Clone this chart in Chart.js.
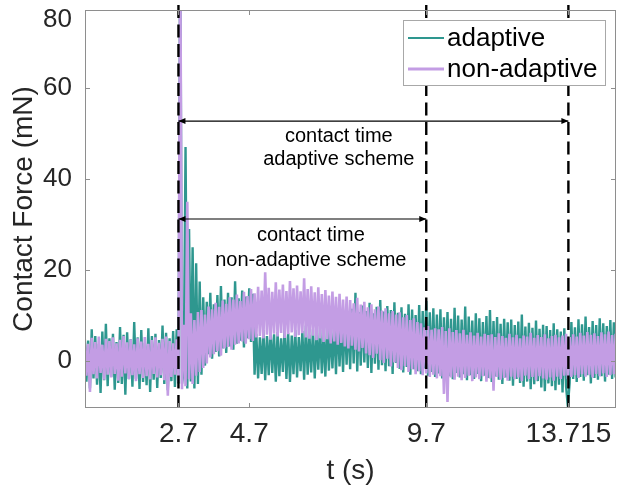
<!DOCTYPE html>
<html><head><meta charset="utf-8">
<script src="https://cdn.jsdelivr.net/npm/chart.js@4/dist/chart.umd.min.js"></script>
<style>html,body{margin:0;padding:0;background:#fff;}</style>
</head><body>
<canvas id="c" width="633" height="485"></canvas>
<script>
// ---- data ----
const sampleStart = 0.05, sampleStep = 0.05;   // sample times of the recorded signals (s)
const adaptive = [
 6,-4.5,4.5,-6,7,-3.8,5.5,-5.2,3.8,-7,
 6.5,-4.2,8.2,-5.5,5,-3.5,6,-6.3,4.2,-4.8,
 7.5,-5,5.8,-7.4,6.3,-4,4.8,-5.6,8.6,-3.9,
 5.2,-6.1,6.8,-4.6,4,-5.3,7.2,-6.8,5.5,-4.1,
 6,-5.9,4.6,-3.7,7.8,-5,6.2,-6.4,5,-4.4,
 6.6,-5.7,7,-4.9,95,-5,-2,47,-6,29,
 -4.5,25,-6,21.5,-5,17.5,-3,14,-1,13,
 1.5,15,0.5,12.5,2,14.5,1,16.5,2.8,13.5,
 1.8,15,3.2,14,2.5,17.5,3.8,13.8,4.5,15.5,
 3,14.2,5,16,4.2,14.8,-3,6,-3.8,5.2,
 -2.8,6.8,-4.2,5.5,-3.1,7.2,-2.6,5.9,-4.5,6.4,
 -3.3,5,-2.4,7.5,-3.9,6.1,-4.6,5.6,-2.9,6.9,
 -3.6,5.3,-2.2,6.6,-4.1,7.8,-3,5.8,-2.5,7,
 -3.8,6.2,-1.9,7.4,-2.7,5.9,-3.4,8,-2.1,7.1,
 -1.6,8.6,-2.9,9.5,-1.2,8.2,-2.4,10.3,-0.8,9.6,
 -1.8,11.5,-0.5,15,-2.3,10.8,-1,12.2,-0.3,11,
 -1.5,12.8,-2.6,10.5,-0.6,11.9,-1.9,13.4,-0.9,10.9,
 -2.2,12.1,-1.1,11.2,-2.8,12.9,-0.4,10.6,-1.7,11.8,
 -2.5,10.4,-1.3,12.5,-3,11.3,-1.8,10.1,-2.2,12.3,
 -2.9,11,-1.6,13.2,-3.2,10.7,-2.4,11.6,-3.5,10.2,
 -2.7,11.4,-3.8,9.6,-2.1,10.8,-3.3,9.3,-4,11.7,
 -2.6,10,-3.6,9.1,-2.9,12,-4.2,9.8,-3.1,8.9,
 -3.9,10.5,-2.8,9.4,-4.4,8.6,-3.2,9.9,-3.7,11.2,
 -4.6,8.8,-3.4,9.7,-4.1,8.2,-5,9.3,-3.6,8.5,
 -4.3,9.1,-5.4,7.9,-3.9,8.7,-4.8,10.2,-5.6,7.6,
 -4.5,8.4,-6.2,7.3,-5.1,8.9,-4.4,7.1,-5.8,8,
 -6.6,7.7,-4.9,6.8,-5.5,8.3,-6.4,7,-5.2,6.5,
 -6.9,7.2,-5.6,-10,-4.8,8.6,-3.9,7.4,-4.6,9.2,
 -3.5,8.1,-4.3,9.8,-3.1,7.5,-4.9,8.8,-3.7,7.9,
 -4.1,9.4,-3.3,8.3,-4.5,7.7,-3,9,-3.9,8.5,
 -3.6
];
const nonAdaptive = [
 4.5,-3.2,3.8,-6.8,5.1,-2.9,4.2,-3.8,5.4,-2.6,
 3.6,-4.1,4.9,-3,4.4,-3.6,5.2,-2.8,3.9,-4.3,
 4.7,-3.4,5.5,-2.7,4.1,-3.9,4.8,-3.1,3.7,-4.4,
 5,-2.9,4.3,-3.7,5.3,-3.3,3.8,-4,4.6,-2.8,
 5.2,-3.6,4,-3.1,4.9,-4.2,5.4,-7.6,4.4,-3.5,
 3.9,-3,4.8,-4.6,95,-6.2,8,-5.5,35,-4,
 10.5,-5,9,-3.2,10.8,-2.4,11.2,-1.5,10.2,-0.5,
 12,0.8,11.4,1.5,12.8,2.2,11.9,1.2,13.3,2.8,
 12.6,3.1,14,2.5,13.5,3.6,14.6,3.9,13.2,4.3,
 15.2,3.8,14.3,4.8,15.8,4.4,14.9,5.2,16.3,5.5,
 15.5,5,19.5,5.8,16.1,4.7,15.2,6,17.3,5.4,
 15.7,6.2,16.8,5.1,15.4,5.9,17.6,6.3,16,5.3,
 16.6,5.7,15.3,6.1,18.2,5.2,15.8,4.9,16.4,5.6,
 15.1,4.6,16.2,5,14.7,4.2,15.6,4.8,14.4,3.9,
 15.3,4.3,14.1,3.6,14.8,4,13.5,3.2,14.2,2.8,
 13.4,3.4,12.7,2.5,13.9,2.1,12.4,2.9,13,1.7,
 11.8,1.3,12.5,0.7,11.4,1.6,12,0.2,11.1,-0.4,
 11.6,0.5,10.5,-1.2,11,-0.3,10.2,-1.5,10.7,-2,
 9.6,-1.1,10.1,-2.4,9,-1.8,9.4,-2.9,8.6,-2.2,
 8.3,-3.1,7.4,-2.7,7.7,-3.5,6.9,-3,7.2,-3.8,
 7,-3.3,7.5,-7.2,6.6,-9,7.2,-3.6,6.4,-4.1,
 6.8,-3.4,6.1,-4.2,6.9,-3.7,5.8,-3.2,6.3,-4.4,
 5.6,-3.6,6.2,-4,5.4,-3.3,6,-4.5,5.7,-3.8,
 5.9,-6.5,5.3,-3.5,6.1,-4.1,5.5,-3.7,5.1,-4.3,
 6,-3.4,5.2,-4,5.8,-3.6,5,-4.4,5.6,-3.2,
 5.4,-3.9,6.2,-3.5,5.1,-4.2,5.7,-3.3,5.3,-3.8,
 5.9,-4.1,5,-3.6,5.5,-4.3,5.8,-3.4,5.2,-3.9,
 5.6,-3.2,6,-4,5.3,-3.5,5.9,-3.1,5.4,-3.7,
 6.2,-2.9,5.6,-3.4,6.4,-3,5.8,-3.6,6.1,-2.8,
 5.5,-3.3,6.3,-2.7,5.9,-3.5,6.5,-3.1,5.7,-2.9,
 6
];
const seriesNames = ['adaptive', 'non-adaptive'];
const markerTimes = [2.7, 9.7, 13.715];                 // dashed vertical lines
const xTickValues = [2.7, 4.7, 9.7, 13.715];
const xTickLabels = ['2.7', '4.7', '9.7', '13.715'];
const yTickValues = [0, 20, 40, 60, 74.9];
const yTickLabels = ['0', '20', '40', '60', '80'];
const arrowY     = [52.7, 31.2];
const arrowStart = [2.7, 2.7];
const arrowEnd   = [13.715, 9.7];
const noteLines  = [['contact time', 'adaptive scheme'], ['contact time', 'non-adaptive scheme']];
const noteX      = [7.23, 6.44];
const noteY      = [[49.4, 44.2], [27.5, 22.2]];

// ---- styles ----
const TEAL = '#2e978f', LILAC = '#c39de4';
const FONT = '"Liberation Sans", Arial, Helvetica, sans-serif';
const AXIS = '#8e8e8e', TXT = '#262626';

const times = adaptive.map((_, i) => +(sampleStart + i * sampleStep).toFixed(2));
const pts = arr => times.map((t, i) => ({x: t, y: arr[i]}));

const datasets = [];
markerTimes.forEach(t => datasets.push({
  data: [{x: t, y: -10.3}, {x: t, y: 79.5}], borderColor: '#000', borderWidth: 2.4,
  borderDash: [13, 6.5], pointRadius: 0, clip: false, order: 0
}));
arrowY.forEach((v, i) => datasets.push({
  data: [{x: arrowStart[i], y: v}, {x: arrowEnd[i], y: v}], borderColor: '#000', borderWidth: 1.2,
  pointRadius: 0, order: 0
}));
datasets.push({label: seriesNames[1], data: pts(nonAdaptive), borderColor: LILAC, borderWidth: 2.6,
  borderJoinStyle: 'bevel', pointRadius: 0, order: 1});
datasets.push({label: seriesNames[0], data: pts(adaptive), borderColor: TEAL, borderWidth: 2.4,
  borderJoinStyle: 'bevel', pointRadius: 0, order: 2});

const overlay = {
  id: 'overlay',
  afterDatasetsDraw(chart) {
    const {ctx, chartArea: a, scales: {x, y}} = chart;
    ctx.save();
    // arrow heads
    ctx.fillStyle = '#000';
    const head = (px, py, dir) => {
      ctx.beginPath(); ctx.moveTo(px, py);
      ctx.lineTo(px - dir * 7, py - 3); ctx.lineTo(px - dir * 7, py + 3);
      ctx.closePath(); ctx.fill();
    };
    arrowY.forEach((v, i) => {
      const py = y.getPixelForValue(v);
      head(x.getPixelForValue(arrowStart[i]), py, -1);
      head(x.getPixelForValue(arrowEnd[i]), py, 1);
    });
    // notes
    ctx.font = '20px ' + FONT; ctx.textAlign = 'center'; ctx.textBaseline = 'middle'; ctx.fillStyle = '#000';
    noteLines.forEach((lines, i) => lines.forEach((s, j) =>
      ctx.fillText(s, x.getPixelForValue(noteX[i]), y.getPixelForValue(noteY[i][j]))));
    // frame and inward ticks
    ctx.strokeStyle = AXIS; ctx.lineWidth = 1;
    ctx.strokeRect(Math.round(a.left) + 0.5, Math.round(a.top) + 0.5, Math.round(a.width) - 1, Math.round(a.height) - 1);
    ctx.beginPath();
    xTickValues.forEach(v => {
      const px = Math.round(x.getPixelForValue(v)) + 0.5;
      ctx.moveTo(px, a.bottom); ctx.lineTo(px, a.bottom - 5);
      ctx.moveTo(px, a.top); ctx.lineTo(px, a.top + 5);
    });
    yTickValues.slice(0, 4).forEach(v => {
      const py = Math.round(y.getPixelForValue(v)) + 0.5;
      ctx.moveTo(a.left, py); ctx.lineTo(a.left + 5, py);
      ctx.moveTo(a.right, py); ctx.lineTo(a.right - 5, py);
    });
    ctx.stroke();
    // legend
    const lx = 403, ly = 20, lw = 203, lh = 66;
    ctx.fillStyle = '#fff'; ctx.fillRect(lx, ly, lw, lh);
    ctx.strokeStyle = '#a8a8a8'; ctx.strokeRect(lx + 0.5, ly + 0.5, lw - 1, lh - 1);
    const rows = [{c: TEAL, w: 1.8, yy: 38, t: seriesNames[0]}, {c: LILAC, w: 3, yy: 69, t: seriesNames[1]}];
    ctx.font = '26px ' + FONT; ctx.textAlign = 'left'; ctx.textBaseline = 'middle';
    rows.forEach(r => {
      ctx.strokeStyle = r.c; ctx.lineWidth = r.w;
      ctx.beginPath(); ctx.moveTo(408, r.yy); ctx.lineTo(444, r.yy); ctx.stroke();
      ctx.fillStyle = '#000'; ctx.fillText(r.t, 447, r.yy + 1);
    });
    ctx.restore();
  }
};

new Chart(document.getElementById('c'), {
  type: 'line',
  data: {datasets},
  options: {
    responsive: false, animation: false, events: [],
    layout: {padding: {left: 0, right: 17, top: 10, bottom: 0}},
    plugins: {legend: {display: false}, tooltip: {enabled: false}},
    elements: {line: {tension: 0}},
    scales: {
      x: {
        type: 'linear', min: 0.06, max: 15.06,
        afterBuildTicks: s => { s.ticks = xTickValues.map(v => ({value: v})); },
        afterFit: s => { s.height = 77; s.paddingLeft = 0; s.paddingRight = 0; },
        grid: {display: false, drawTicks: false}, border: {display: false},
        ticks: {padding: 9, color: TXT, font: {family: FONT, size: 28}, maxRotation: 0, autoSkip: false,
          callback: v => xTickLabels[xTickValues.indexOf(v)] ?? ''},
        title: {display: true, text: 't (s)', color: TXT, font: {family: FONT, size: 28}, padding: {top: 0, bottom: -3}}
      },
      y: {
        type: 'linear', min: -10.3, max: 77.1,
        afterBuildTicks: s => { s.ticks = yTickValues.map(v => ({value: v})); },
        afterFit: s => { s.width = 85; s.paddingTop = 0; s.paddingBottom = 0; },
        grid: {display: false, drawTicks: false}, border: {display: false},
        ticks: {padding: 13, color: TXT, font: {family: FONT, size: 26}, autoSkip: false,
          callback: v => yTickLabels[yTickValues.indexOf(v)] ?? ''},
        title: {display: true, text: 'Contact Force (mN)', color: TXT, font: {family: FONT, size: 28}, padding: {top: 7, bottom: 0}}
      }
    }
  },
  plugins: [overlay]
});
</script>
</body></html>
